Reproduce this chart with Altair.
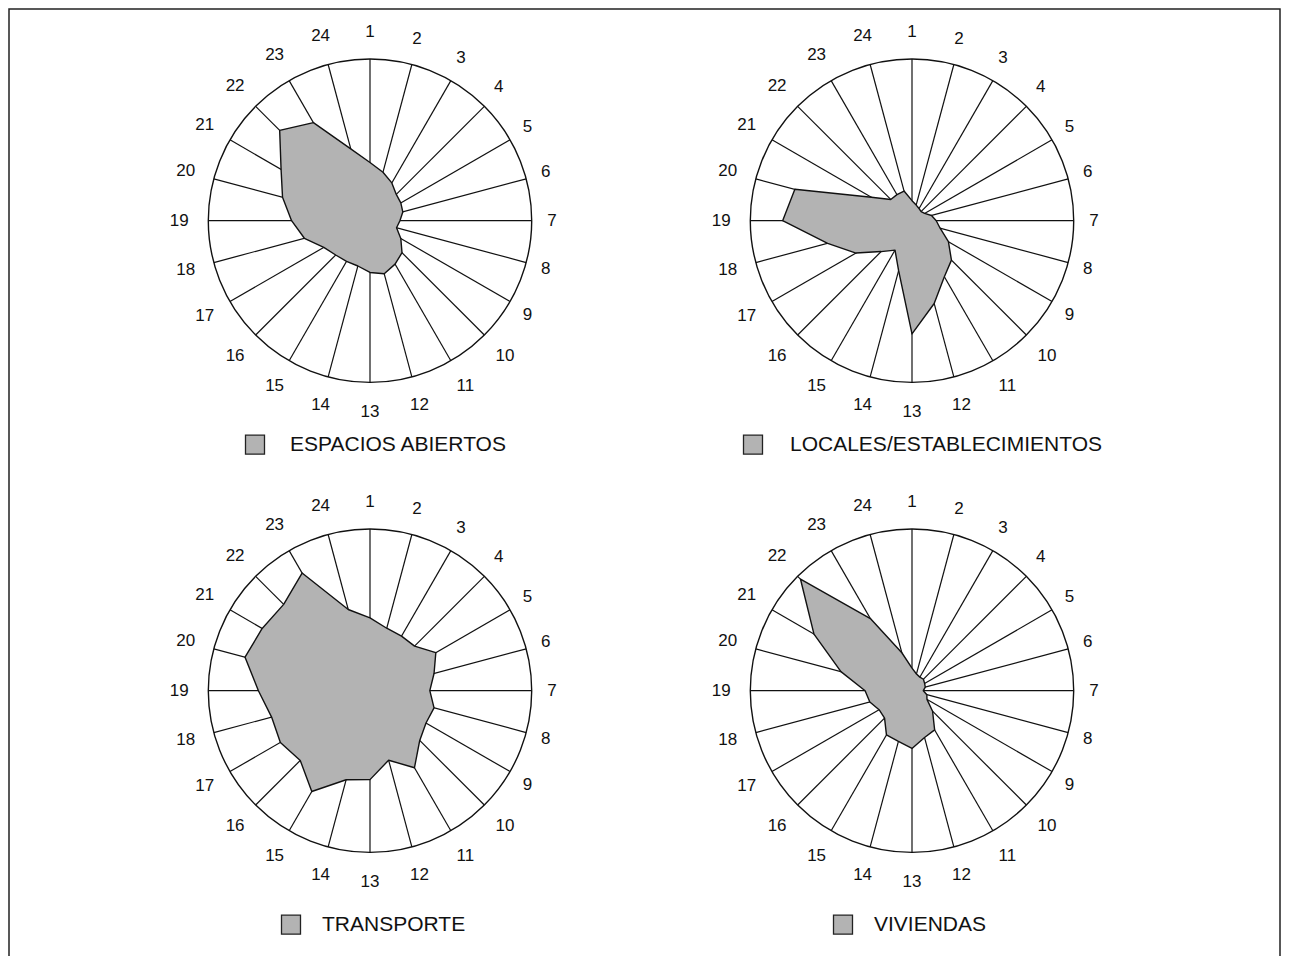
import math
import altair as alt
import pandas as pd

# ---------------- data ----------------
hours = list(range(1, 25))
panel_names = ["ESPACIOS ABIERTOS", "LOCALES/ESTABLECIMIENTOS", "TRANSPORTE", "VIVIENDAS"]

espacios = [0.36, 0.31, 0.27, 0.23, 0.22, 0.21, 0.185, 0.17, 0.22, 0.28, 0.31, 0.34,
            0.32, 0.29, 0.29, 0.30, 0.33, 0.42, 0.485, 0.56, 0.635, 0.79, 0.70, 0.46]
locales = [0.124, 0.10, 0.087, 0.08, 0.09, 0.125, 0.15, 0.18, 0.26, 0.345, 0.40, 0.53,
           0.70, 0.32, 0.21, 0.27, 0.40, 0.54, 0.80, 0.75, 0.29, 0.186, 0.186, 0.19]
transporte = [0.45, 0.40, 0.39, 0.39, 0.47, 0.41, 0.37, 0.41, 0.40, 0.435, 0.55, 0.445,
              0.55, 0.57, 0.72, 0.61, 0.64, 0.63, 0.69, 0.80, 0.77, 0.755, 0.84, 0.52]
viviendas = [0.14, 0.107, 0.097, 0.10, 0.09, 0.085, 0.07, 0.095, 0.107, 0.18, 0.28, 0.30,
             0.357, 0.325, 0.316, 0.24, 0.235, 0.27, 0.29, 0.455, 0.70, 0.975, 0.515, 0.243]
series = [espacios, locales, transporte, viviendas]

# ---------------- layout (styles / positions, not data) ----------------
W, H = 1271, 962
R = 161.7                      # circle radius in px
LABEL_R2 = 1.18                # label radius for two-digit labels
LABEL_R1X, LABEL_R1Y = 1.125, 1.165   # single-digit labels sit a little closer
centers = [(361, 211.7), (903, 211.7), (361, 681.7), (903, 681.7)]
legend_sq = [(-115, 224), (-159, 224), (-79, 234), (-69, 234)]   # square centre offsets
legend_tx = [(-80, 224), (-122, 224), (-48, 234), (-38, 234)]    # text start offsets
FILL = "#b3b3b3"
FONT = "Liberation Sans"

poly_rows, spoke_rows, label_rows, circle_rows, leg_sq_rows, leg_tx_rows = [], [], [], [], [], []
for p, (name, vals) in enumerate(zip(panel_names, series)):
    cx, cy = centers[p]
    circle_rows.append({"panel": name, "x": cx, "y": cy})
    leg_sq_rows.append({"panel": name, "x": cx + legend_sq[p][0], "y": cy + legend_sq[p][1]})
    leg_tx_rows.append({"panel": name, "x": cx + legend_tx[p][0], "y": cy + legend_tx[p][1]})
    for h, v in zip(hours, vals):
        a = math.radians((h - 1) * 15)
        s, c = math.sin(a), math.cos(a)
        poly_rows.append({"panel": name, "hour": h, "x": cx + R * v * s, "y": cy - R * v * c})
        spoke_rows.append({"panel": name, "hour": h, "x": cx, "y": cy,
                           "x2": cx + R * s, "y2": cy - R * c})
        rx, ry = (LABEL_R1X, LABEL_R1Y) if h < 10 else (LABEL_R2, LABEL_R2)
        label_rows.append({"panel": name, "hour": str(h),
                           "x": cx + R * rx * s, "y": cy - R * ry * c})

poly = pd.DataFrame(poly_rows)
spokes = pd.DataFrame(spoke_rows)
labels = pd.DataFrame(label_rows)
circles = pd.DataFrame(circle_rows)
leg_sq = pd.DataFrame(leg_sq_rows)
leg_tx = pd.DataFrame(leg_tx_rows)

xs = alt.Scale(domain=[0, W], nice=False, zero=False)
ys = alt.Scale(domain=[0, H], nice=False, zero=False, reverse=True)
X = lambda f="x": alt.X(f"{f}:Q", scale=xs, axis=None)
Y = lambda f="y": alt.Y(f"{f}:Q", scale=ys, axis=None)

spoke_layer = alt.Chart(spokes).mark_rule(color="#111", strokeWidth=1.2).encode(
    x=X(), y=Y(), x2="x2:Q", y2="y2:Q")

circle_layer = alt.Chart(circles).mark_point(
    shape="circle", size=(2 * R) ** 2, filled=False, color="#111",
    strokeWidth=1.4, opacity=1).encode(x=X(), y=Y())

poly_layer = alt.Chart(poly).mark_line(
    interpolate="linear-closed", fill=FILL, stroke="#111", strokeWidth=1.4,
    strokeJoin="round").encode(x=X(), y=Y(), detail="panel:N", order="hour:Q")

label_layer = alt.Chart(labels).mark_text(
    font=FONT, fontSize=17, color="#111", align="center", baseline="middle").encode(
    x=X(), y=Y(), text="hour:N")

leg_sq_layer = alt.Chart(leg_sq).mark_point(
    shape="square", size=19 * 19, filled=True, fill=FILL, stroke="#222",
    strokeWidth=1.3, opacity=1).encode(x=X(), y=Y())

leg_tx_layer = alt.Chart(leg_tx).mark_text(
    font=FONT, fontSize=21, color="#111", align="left", baseline="middle").encode(
    x=X(), y=Y(), text="panel:N")

chart = alt.layer(spoke_layer, circle_layer, poly_layer, label_layer,
                  leg_sq_layer, leg_tx_layer).properties(
    width=W, height=H,
    autosize=alt.AutoSizeParams(type="none"),
    padding={"left": 1, "top": 1, "right": 1, "bottom": 1},
    background="white",
).configure_view(stroke="#222", strokeWidth=1.5)

chart.save("out.html", embed_options={"renderer": "svg", "actions": False})
